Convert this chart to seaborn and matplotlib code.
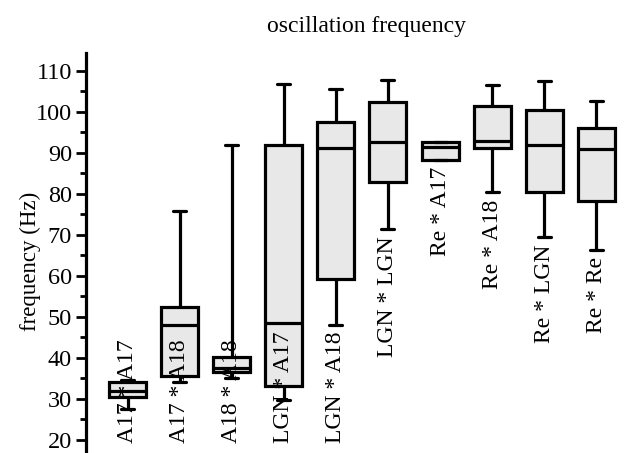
import matplotlib

matplotlib.use("Agg")
import matplotlib.pyplot as plt  # noqa: E402
import numpy as np  # noqa: E402
import pandas as pd  # noqa: E402
import seaborn as sns  # noqa: E402

# --------------------------------------------------------------------------- data
pairs = ["A17 * A17", "A17 * A18", "A18 * A18", "LGN * A17", "LGN * A18",
         "LGN * LGN", "Re * A17", "Re * A18", "Re * LGN", "Re * Re"]
whisker_lo = [27.5, 34.1, 35.0, 29.7, 48.0, 71.3, 88.2, 80.3, 69.4, 66.4]
q1 = [30.5, 35.6, 36.6, 33.1, 59.2, 82.8, 88.2, 91.1, 80.3, 78.2]
median = [31.9, 48.1, 37.5, 48.6, 91.2, 92.5, 91.3, 92.9, 91.9, 90.8]
q3 = [34.2, 52.4, 40.2, 91.9, 97.6, 102.3, 92.7, 101.5, 100.4, 96.1]
whisker_hi = [34.5, 75.8, 91.8, 106.7, 105.5, 107.8, 92.7, 106.5, 107.5, 102.7]

# five summary points per group -> quartiles reproduce exactly, whiskers = min/max
rows = []
for i, name in enumerate(pairs):
    for v in (whisker_lo[i], q1[i], median[i], q3[i], whisker_hi[i]):
        rows.append({"pair": name, "freq": v})
df = pd.DataFrame(rows)

sns.set_theme(style="white")
plt.rcParams["font.family"] = ["Liberation Serif", "DejaVu Serif"]
plt.rcParams["text.color"] = "black"
plt.rcParams["ytick.color"] = "black"
plt.rcParams["axes.labelcolor"] = "black"

fig = plt.figure(figsize=(6.38, 4.53), dpi=100)
ax = fig.add_axes([0.1348, 0.0, 0.865, 0.883])

lw = 2.3
sns.boxplot(data=df, x="pair", y="freq", order=pairs, ax=ax, whis=(0, 100),
            width=0.71, color="#e8e8e8", saturation=1, fliersize=0,
            linecolor="black", linewidth=lw,
            capprops={"linewidth": lw}, capwidths=0.25)

ax.set_xlim(-0.8, 9.8)
ax.set_ylim(16.8, 114.3)
ax.set_yticks(np.arange(20, 111, 10))
ax.set_yticks(np.arange(25, 111, 10), minor=True)
ax.tick_params(axis="y", which="major", direction="out", length=7, width=2,
               labelsize=17.5, pad=3, left=True, color="black",
               labelcolor="black")
ax.tick_params(axis="y", which="minor", direction="out", length=4, width=2,
               left=True, color="black")
ax.set_xticks([])
ax.set_xlabel("")
ax.set_ylabel("")
for side in ("top", "right", "bottom"):
    ax.spines[side].set_visible(False)
ax.spines["left"].set_linewidth(2.3)
ax.spines["left"].set_color("black")

# category names written inside the plot, below the lower whisker
for i, name in enumerate(pairs):
    if whisker_lo[i] > 45:
        ax.text(i, whisker_lo[i] - 1.7, name, rotation=90, ha="center",
                va="top", fontsize=17, color="black")
    else:
        ax.text(i, 19.2, name, rotation=90, ha="center", va="bottom",
                fontsize=17, color="black")

fig.text(0.047, 0.424, "frequency (Hz)", rotation=90, ha="center",
         va="center", fontsize=16.5, color="black")
fig.text(0.575, 0.942, "oscillation frequency", ha="center", va="center",
         fontsize=17, color="black")

fig.savefig("out.png", dpi=100)
